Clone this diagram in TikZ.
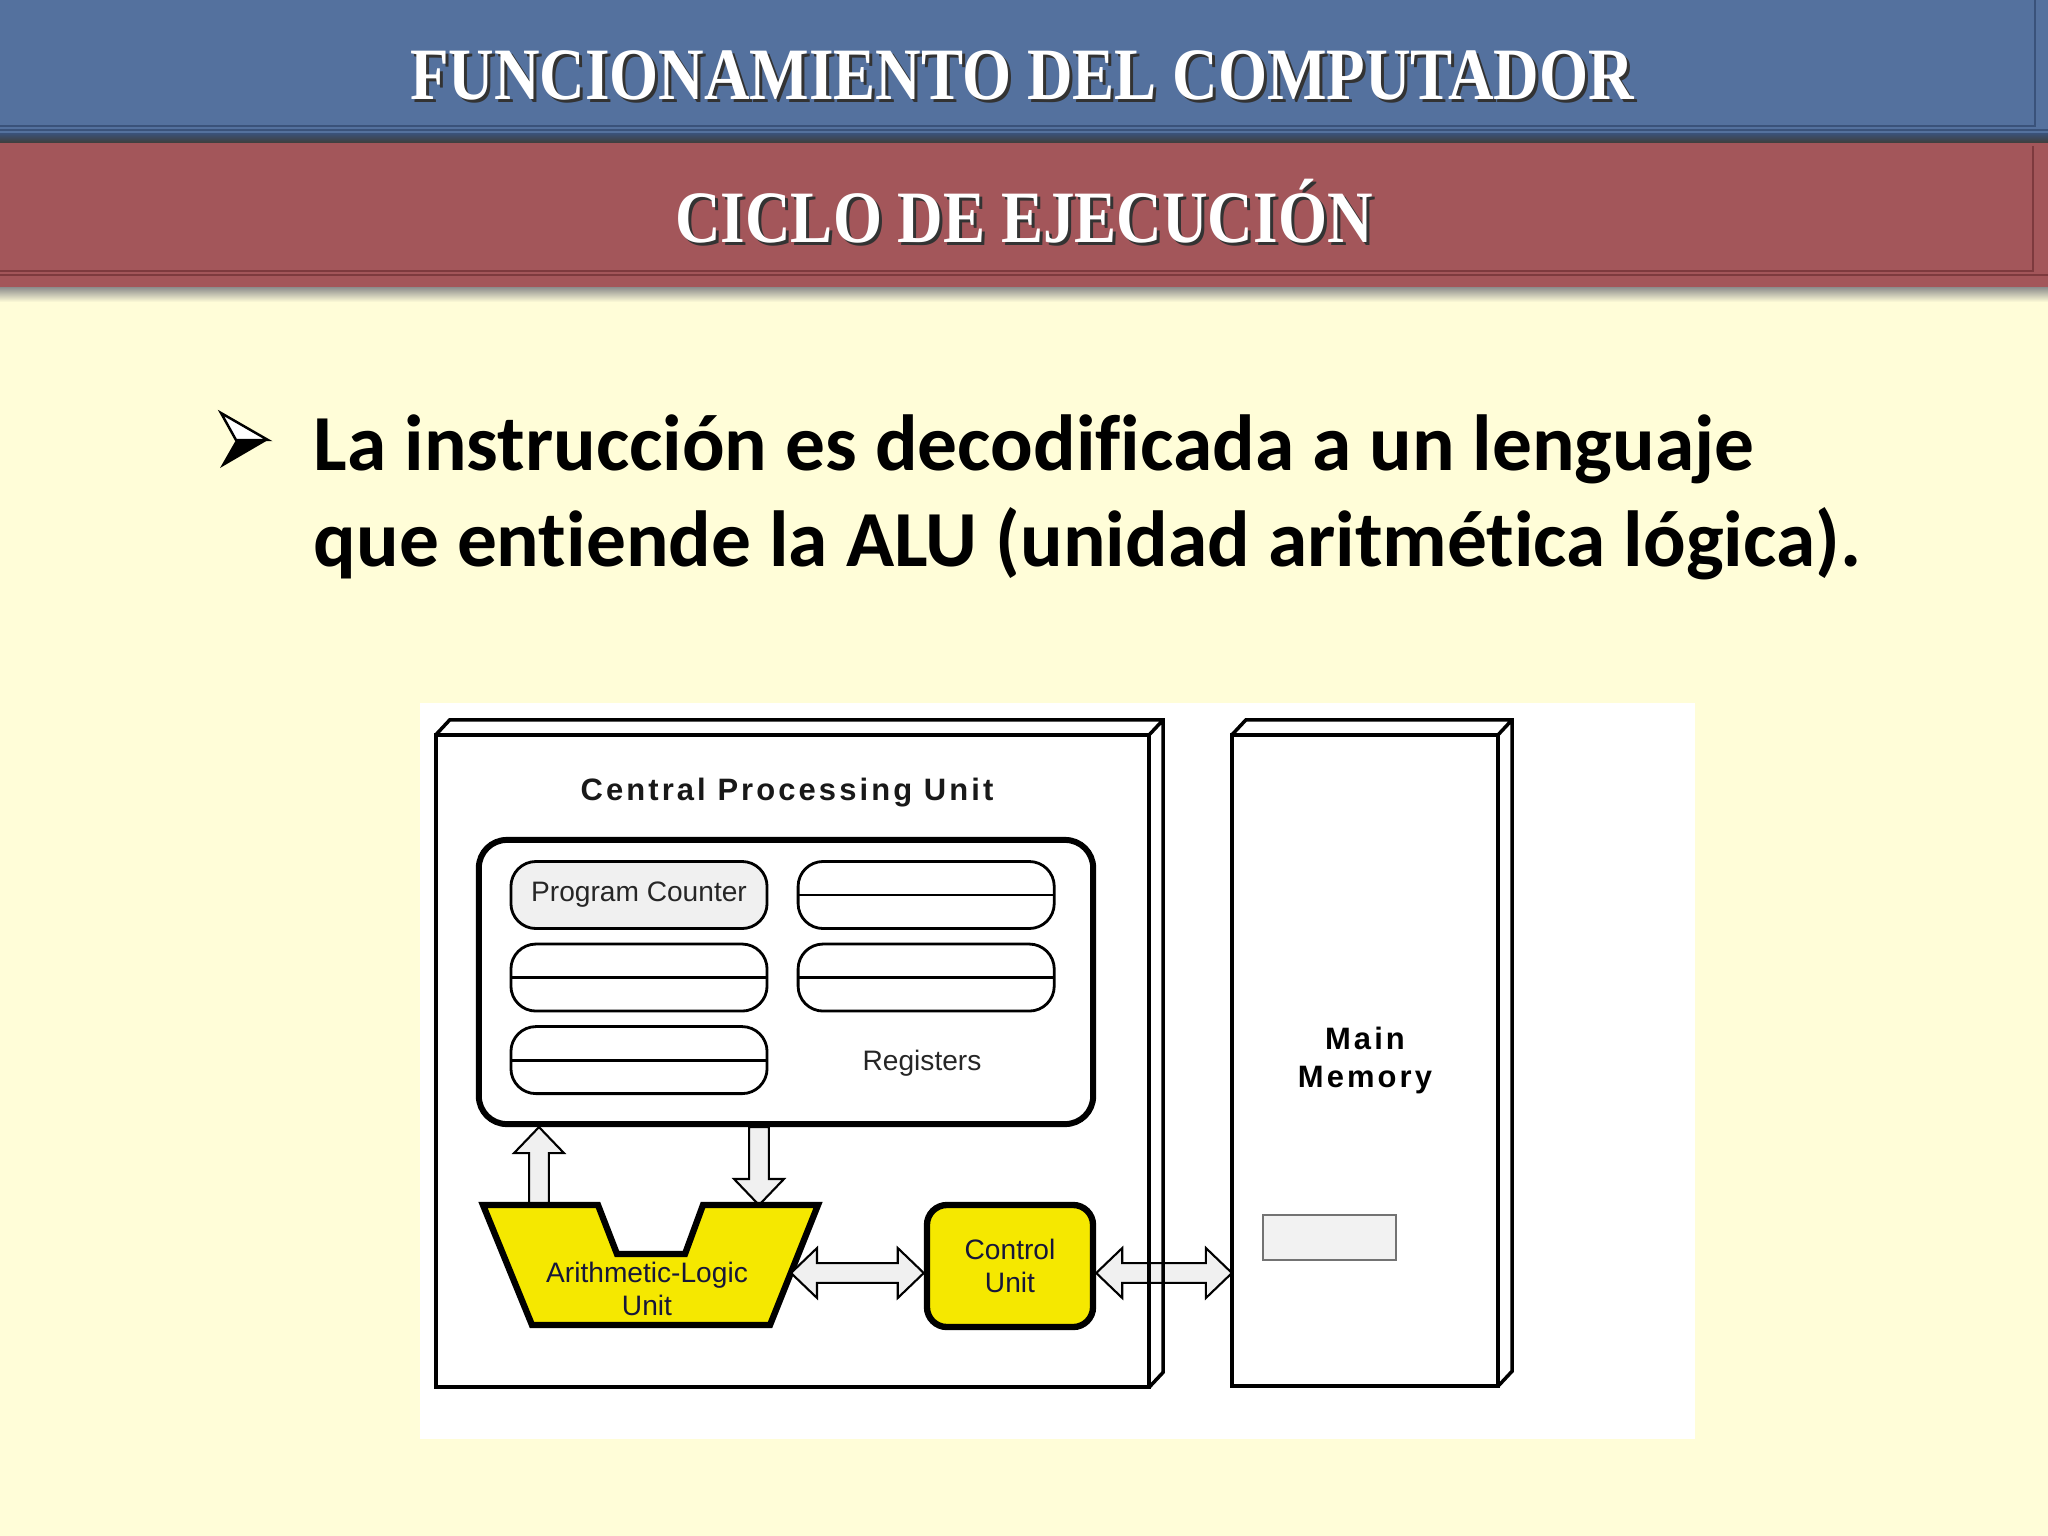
\documentclass[tikz,border=0pt]{standalone}
\usepackage{fontspec}
\setmainfont{Liberation Serif}
\newfontfamily\slidefont{Carlito}[Ligatures=NoCommon]
\newfontfamily\labelfont{Liberation Sans}
\newfontfamily\headfont{Liberation Sans}[LetterSpace=10]
\usetikzlibrary{calc,positioning}

\definecolor{slidecream}{RGB}{255,253,216}
\definecolor{bandblue}{RGB}{84,113,158}
\definecolor{bandbluedark}{RGB}{58,82,122}
\definecolor{bandred}{RGB}{163,86,90}
\definecolor{bandreddark}{RGB}{125,58,62}
\definecolor{aluyellow}{RGB}{245,232,0}
\definecolor{inknavy}{RGB}{22,22,58}

\providecommand{\headlen}{7.4pt}
\providecommand{\headwid}{7.1pt}
\providecommand{\shaftwid}{2.8pt}

\begin{document}
\begin{tikzpicture}[x=0.01cm,y=-0.01cm,
    ttl/.style={font=\titlesize\bfseries, text=white, inner sep=0, anchor=base},
    ttlshade/.style={ttl, text=black!80},
    bullettxt/.style={font=\bulletsize, anchor=base west, inner sep=0},
    box3d/.style={line width=1pt, outer sep=0pt, inner sep=0pt},
    regcell/.style={draw, line width=0.8pt, rounded corners=0.25cm, minimum width=2.56cm,
        minimum height=0.67cm, outer sep=0pt, inner sep=0pt, font=\lblsize, text=black!85},
    splitcell/.style={regcell, path picture={\draw[line width=0.8pt] (path picture bounding box.west) -- (path picture bounding box.east);}},
    yellowbox/.style={fill=aluyellow, draw, line width=1.8pt, line join=miter},
    blkarrow/.style={draw, fill=black!6, line width=0.6pt, line join=miter},
    hdbl/.style={blkarrow, to path={let \p1=(\tikztostart), \p2=(\tikztotarget) in
        -- ({\x1+\headlen},{\y1+\headwid}) -- ({\x1+\headlen},{\y1+\shaftwid})
        -- ({\x2-\headlen},{\y1+\shaftwid}) -- ({\x2-\headlen},{\y1+\headwid})
        -- (\x2,\y1) -- ({\x2-\headlen},{\y1-\headwid}) -- ({\x2-\headlen},{\y1-\shaftwid})
        -- ({\x1+\headlen},{\y1-\shaftwid}) -- ({\x1+\headlen},{\y1-\headwid}) -- cycle}},
    vblk/.style={blkarrow, to path={let \p1=(\tikztostart), \p2=(\tikztotarget), \n1={sign(\y2-\y1)} in
        -- ({\x1+\shaftwid},\y1) -- ({\x1+\shaftwid},{\y2-(\n1)*\headlen})
        -- ({\x1+\headwid},{\y2-(\n1)*\headlen}) -- (\x1,\y2)
        -- ({\x1-\headwid},{\y2-(\n1)*\headlen}) -- ({\x1-\shaftwid},{\y2-(\n1)*\headlen})
        -- ({\x1-\shaftwid},\y1) -- cycle}}]
    \pgfmathsetmacro{\depthx}{14}
    \pgfmathsetmacro{\depthy}{15}
    \providecommand{\titlesize}{\fontsize{21pt}{24pt}\selectfont}
    \providecommand{\bulletsize}{\slidefont\bfseries\fontsize{22.6pt}{27pt}\selectfont}
    \providecommand{\hdsize}{\headfont\bfseries\fontsize{8.8pt}{10.8pt}\selectfont}
    \providecommand{\lblsize}{\labelfont\fontsize{8pt}{9.4pt}\selectfont}
    \useasboundingbox (0,0) rectangle (2048,1536);
    \fill[slidecream] (0,0) rectangle (2048,1536);
    % title bands
    \fill[bandblue] (0,0) rectangle (2048,140);
    \fill[bandred] (0,140) rectangle (2048,287);
    \draw[bandbluedark, line width=0.6pt] (0,126) -- (2035,126) -- (2035,0) (0,130) -- (2048,130);
    \draw[bandreddark, line width=0.6pt] (0,271) -- (2033,271) -- (2033,146) (0,275) -- (2048,275);
    \shade[top color=bandbluedark, bottom color=black!75] (0,133) rectangle (2048,142);
    \shade[top color=black!45, bottom color=slidecream] (0,287) rectangle (2048,302);
    \node[ttlshade] (ttltopshade) at (1025,102) {\scalebox{0.854}[1]{FUNCIONAMIENTO DEL COMPUTADOR}};
    \node[ttl] (ttltop) at (1022,99) {\scalebox{0.854}[1]{FUNCIONAMIENTO DEL COMPUTADOR}};
    \node[ttlshade] (ttlsubshade) at (1027,245) {\scalebox{0.854}[1]{CICLO DE EJECUCIÓN}};
    \node[ttl] (ttlsub) at (1024,242) {\scalebox{0.854}[1]{CICLO DE EJECUCIÓN}};
    % bullet
    \draw[fill=white, line width=0.7pt, line join=miter] (221,413) -- (268,440) -- (236,440) -- cycle;
    \fill (236,440) -- (268,440) -- (220,468) -- cycle;
    \node[bullettxt] (lineone) at (313,470) {La instrucción es decodificada a un lenguaje};
    \node[bullettxt] (linetwo) at (313,566) {que entiende la ALU (unidad aritmética lógica).};
    % diagram
    \fill[white] (420,703) rectangle (1695,1439);
    \node[box3d, fill=white, minimum width=7.13cm, minimum height=6.52cm] (cpu) at (792.5,1061) {};
    \node[box3d, draw, fill=white, minimum width=2.66cm, minimum height=6.51cm, font=\hdsize, align=center] (mem) at (1365,1060.5) {Main\\Memory};
    \draw[box3d] (mem.north west) -- ++(\depthx,-\depthy) -- ($(mem.north east)+(\depthx,-\depthy)$)
        -- ($(mem.south east)+(\depthx,-\depthy)$) -- (mem.south east) (mem.north east) -- ++(\depthx,-\depthy);
    \node[draw=black!55, fill=black!5, line width=0.6pt, minimum width=1.33cm, minimum height=0.45cm, inner sep=0] (slot) at (1329.5,1237.5) {};
    \coordinate (aluup) at (539,1205);
    \coordinate (aludn) at (759,1205);
    \coordinate (alur) at (791,1273);
    \node[draw, yellowbox, rounded corners=0.2cm, minimum width=1.66cm, minimum height=1.22cm, inner sep=0,
        font=\lblsize, text=inknavy, align=center] (cu) at (1010,1266) {Control\\Unit};
    \draw[hdbl] (cu.east |- alur) to (mem.west |- alur);
    \draw[box3d] (cpu.north west) rectangle (cpu.south east);
    \draw[box3d] (cpu.north west) -- ++(\depthx,-\depthy) -- ($(cpu.north east)+(\depthx,-\depthy)$)
        -- ($(cpu.south east)+(\depthx,-\depthy)$) -- (cpu.south east) (cpu.north east) -- ++(\depthx,-\depthy);
    \node[font=\hdsize, text=black!90, anchor=base, inner sep=0] (cputitle) at (787,800) {Central Processing Unit};
    \node[draw, fill=white, line width=1.7pt, rounded corners=0.28cm, minimum width=6.14cm, minimum height=2.84cm] (regs) at (786,982) {};
    \node[regcell, fill=black!6] (pc) at (639,895) {Program Counter};
    \node[splitcell, right=0.31cm of pc] (regb) {};
    \node[splitcell, below=0.155cm of pc] (regc) {};
    \node[splitcell, below=0.155cm of regb] (regd) {};
    \node[splitcell, below=0.155cm of regc] (rege) {};
    \node[font=\lblsize, text=black!85, anchor=base, inner sep=0] (reglabel) at (922,1070) {Registers};
    \draw[vblk] (aluup) to (aluup |- regs.south);
    \draw[vblk] (regs.south -| aludn) to (aludn);
    \draw[yellowbox] (483,1205) -- (598,1205) -- (617,1254) -- (685,1254) -- (703,1205) -- (818,1205) -- (770,1325) -- (532,1325) -- cycle;
    \node[font=\lblsize, text=inknavy, align=center, inner sep=0] (alu) at (647,1289) {Arithmetic-Logic\\Unit};
    \draw[hdbl] (alur) to (cu.west);
\end{tikzpicture}
\end{document}
